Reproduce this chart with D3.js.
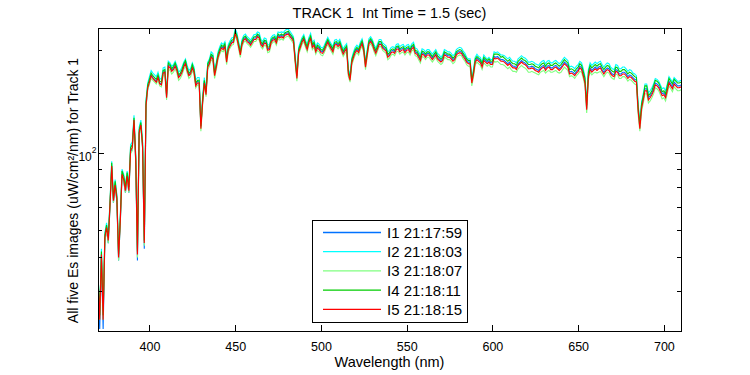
<!DOCTYPE html>
<html><head><meta charset="utf-8">
<script src="https://cdn.jsdelivr.net/npm/d3@7/dist/d3.min.js"></script>
<style>body{margin:0;background:#fff;} text{font-family:"Liberation Sans",Arial,Helvetica,sans-serif;}</style>
</head><body><svg id="c" width="750" height="375"></svg>
<script>
// main wavelength grid (nm)
const wavelengths = [370,371,372,373,374,375,376,377,378,379,380,381,382,383,384,385,386,387,388,389,390,391,392,393,394,395,396,397,398,399,400,
402,404,406,408,410,412,414,416,418,420,422,424,426,428,430,432,434,436,438,440,
442,444,446,448,450,452,454,456,458,460,462,464,466,468,470,472,474,476,478,480,
482,484,486,488,490,492,494,496,498,500,502,504,506,508,510,512,514,516,518,520,
522,524,526,528,530,532,534,536,538,540,542,544,546,548,550,552,554,556,558,560,
562,564,566,568,570,572,574,576,578,580,582,584,586,588,590,592,594,596,598,600,
602,604,606,608,610,612,614,616,618,620,622,624,626,628,630,632,634,636,638,640,642,644,646,648,650,652,
654,655,656,
658,660,662,664,666,668,670,672,674,676,678,680,682,684,686,688,690,692,694,696,698,700,702,704,706,708,710];
// in-between wavelengths (nm)
const wavelengthsB = [401,403,405,407,409,411,413,415,417,419,421,423,425,427,429,431,433,435,437,439,
441,443,445,447,449,451,453,455,457,459,461,463,465,467,469,471,473,475,477,479,
481,483,485,487,489,491,493,495,497,499,501,503,505,507,509,511,513,515,517,519,
521,523,525,527,529,531,533,535,537,539,541,543,545,547,549,551,553,555,557,559,
561,563,565,567,569,571,573,575,577,579,581,583,585,587,589,591,593,595,597,599,
601,603,605,607,609,611,613,615,617,619,621,623,625,627,629,631,633,635,637,639,
641,643,645,647,649,651,653,
657,659,661,663,665,667,669,671,673,675,677,679,681,683,685,687,689,691,693,695,697,699,701,703,705,707,709];

const I1 = [42,31,50,31,56,60,55,70,91,72,80,73,49,63,86,83,77,85,77,101,103,124,95,49,114,120,104,53,137,154,160,
166,162,160,172,146,179,177,176,170,180,176,172,174,162,119,162,180,192,170,192,
204,206,202,211,224,206,209,217,211,212,216,218,206,210,202,215,211,218,218,223,
220,213,166,205,216,202,217,208,204,198,201,212,203,208,206,202,200,172,185,198,
198,210,180,210,209,197,209,204,200,194,199,202,199,202,201,198,205,196,188,195,
195,192,192,190,186,195,192,190,189,197,197,190,184,161,186,187,180,186,186,183,
190,189,187,184,184,179,177,184,184,181,178,178,175,177,180,179,177,179,178,178,184,180,173,170,175,177,
161,135,169,
174,178,178,175,175,176,170,175,170,172,170,169,166,163,119,145,154,147,154,159,153,150,154,159,161,157,158];
const I1b = [169,164,167,159,173,181,174,181,167,173,184,169,179,158,161,141,149,184,190,180,
199,202,186,207,212,218,195,215,213,208,216,220,209,211,201,212,216,220,220,222,
224,217,187,198,212,208,212,205,199,202,197,207,207,199,209,209,196,203,164,192,
201,205,200,195,213,202,203,209,202,192,198,197,203,201,198,202,203,197,192,196,
192,195,189,195,188,188,194,192,187,195,198,193,186,184,171,189,185,188,184,183,
191,191,187,186,182,181,179,182,186,183,178,179,176,174,179,176,180,177,180,176,
181,182,172,172,173,179,170,
177,176,176,179,172,177,172,169,174,170,172,167,168,164,134,136,154,145,150,160,157,149,147,162,156,159,157];

const I2 = [45,34,53,34,59,63,58,73,95,75,84,76,52,66,90,87,81,89,81,106,108,129,99,53,119,125,109,57,143,160,167,
171,167,165,177,150,183,181,180,174,184,180,176,178,166,122,166,184,197,174,197,
209,211,207,216,230,211,214,222,216,217,221,224,211,215,207,220,216,224,224,229,
226,218,171,210,221,207,223,213,209,203,206,217,208,213,211,207,205,176,189,203,
203,215,184,215,214,202,214,209,205,199,204,207,204,207,206,203,210,201,193,200,
200,197,197,195,190,200,197,195,194,202,202,195,188,166,190,191,184,190,190,187,
196,195,193,190,190,185,183,190,190,187,184,184,181,183,186,185,183,185,184,184,190,186,179,176,181,183,
167,140,175,
180,184,184,181,181,182,176,181,176,178,176,175,171,168,123,149,159,152,159,164,158,155,159,164,166,162,163];
const I2b = [174,169,172,164,178,185,179,185,172,178,188,174,183,163,166,145,153,188,195,184,
204,207,190,212,217,224,200,220,218,213,221,225,214,216,206,217,221,225,225,227,
229,222,191,203,217,213,217,210,204,207,202,212,212,204,214,214,201,208,169,197,
206,210,205,200,218,207,208,214,207,197,203,202,208,206,203,207,208,202,197,201,
197,200,194,200,193,193,199,197,192,200,203,198,190,188,176,194,190,193,188,187,
197,197,193,192,188,187,185,188,192,189,184,185,182,180,185,182,186,183,186,182,
187,188,178,178,179,185,176,
183,182,182,185,178,183,178,175,180,176,178,173,174,170,139,141,159,150,155,165,162,154,152,167,161,164,162];

const I3 = [43,33,50,33,56,60,55,70,90,72,80,73,49,63,86,83,77,85,77,100,102,123,94,50,113,119,103,54,136,153,159,
163,159,157,168,143,174,172,171,165,175,171,167,169,158,116,158,175,187,165,187,
199,201,197,206,219,201,204,212,206,207,211,213,201,205,197,210,206,213,213,218,
215,208,162,200,211,197,212,203,199,193,196,207,198,203,201,197,195,167,180,193,
193,205,175,205,204,192,204,199,195,189,194,197,194,197,196,193,200,191,183,190,
190,187,187,185,181,190,187,185,184,192,192,185,179,157,181,182,175,181,181,178,
184,183,181,178,178,173,172,178,178,175,172,172,170,172,174,173,172,173,172,172,178,174,168,165,170,172,
157,131,164,
169,172,172,170,170,171,165,170,165,167,165,164,161,158,116,140,149,142,149,154,148,145,149,154,156,152,153];
const I3b = [165,161,163,156,169,176,170,176,163,169,179,165,174,155,158,138,146,179,185,175,
194,197,181,202,207,213,190,210,208,203,211,215,204,206,196,207,211,215,215,217,
219,212,182,193,207,203,207,200,194,197,192,202,202,194,204,204,191,198,161,187,
196,200,195,190,208,197,198,204,197,187,193,192,198,196,193,197,198,192,187,191,
187,190,184,190,183,183,189,187,182,190,193,188,181,179,167,184,180,183,179,178,
185,185,181,180,176,175,173,176,180,177,172,173,171,169,173,171,174,172,174,171,
175,176,167,167,168,173,165,
172,171,171,173,167,172,167,164,169,165,167,162,163,159,130,132,149,140,145,155,152,144,142,157,151,154,152];

const I4 = [45,34,52,34,58,62,57,72,94,74,83,75,51,65,89,86,80,88,80,104,106,127,98,52,117,123,107,56,141,158,164,
168,164,162,174,148,181,179,177,171,182,177,173,175,163,120,163,182,194,171,194,
206,208,204,213,226,208,211,219,213,214,218,220,208,212,204,217,213,220,220,225,
222,215,168,207,218,204,219,210,206,200,203,214,205,210,208,204,202,174,187,200,
200,212,182,212,211,199,211,206,202,196,201,204,201,204,203,200,207,198,190,197,
197,194,194,192,188,197,194,192,191,199,199,192,186,163,188,189,182,188,188,185,
194,193,191,187,187,182,180,187,187,184,181,181,178,180,183,182,180,182,181,181,187,183,176,173,178,180,
165,138,172,
177,181,181,178,178,179,173,178,173,175,173,172,169,166,122,147,157,149,157,162,156,152,157,162,164,160,161];
const I4b = [171,166,169,161,175,183,176,183,169,175,186,171,181,160,163,143,151,186,192,182,
201,204,188,209,214,220,197,217,215,210,218,222,211,213,203,214,218,222,222,224,
226,219,189,200,214,210,214,207,201,204,199,209,209,201,211,211,198,205,166,194,
203,207,202,197,215,204,205,211,204,194,200,199,205,203,200,204,205,199,194,198,
194,197,191,197,190,190,196,194,189,197,200,195,188,186,173,191,187,190,186,185,
194,194,190,189,185,184,182,185,189,186,181,182,179,177,182,179,183,180,183,179,
184,185,175,175,176,182,173,
180,179,179,182,175,180,175,172,177,173,175,170,171,167,137,139,157,147,152,163,160,151,149,165,159,162,160];

const I5 = [44,33,51,33,57,61,56,71,92,73,81,74,50,64,87,84,78,86,78,102,104,125,96,51,115,121,105,55,138,155,161,
165,161,159,171,145,177,175,174,168,178,174,170,172,160,118,160,178,190,168,190,
202,204,200,209,222,204,207,215,209,210,214,216,204,208,200,213,209,216,216,221,
218,211,165,203,214,200,215,206,202,196,199,210,201,206,204,200,198,170,183,196,
196,208,178,208,207,195,207,202,198,192,197,200,197,200,199,196,203,194,186,193,
193,190,190,188,184,193,190,188,187,195,195,188,182,160,184,185,178,184,184,181,
188,187,185,182,182,177,175,182,182,179,176,176,173,175,178,177,175,177,176,176,182,178,171,168,173,175,
160,134,167,
172,176,176,173,173,174,168,173,168,170,168,167,164,161,118,143,152,145,152,157,151,148,152,157,159,155,156];
const I5b = [168,163,166,158,172,179,173,179,166,172,182,168,177,157,160,140,148,182,188,178,
197,200,184,205,210,216,193,213,211,206,214,218,207,209,199,210,214,218,218,220,
222,215,185,196,210,206,210,203,197,200,195,205,205,197,207,207,194,201,163,190,
199,203,198,193,211,200,201,207,200,190,196,195,201,199,196,200,201,195,190,194,
190,193,187,193,186,186,192,190,185,193,196,191,184,182,170,187,183,186,182,181,
189,189,185,184,180,179,177,180,184,181,176,177,174,172,177,174,178,175,178,174,
179,180,170,170,171,177,168,
175,174,174,177,170,175,170,167,172,168,170,165,166,162,133,135,152,143,148,158,155,147,145,160,154,157,155];

const seriesNames = ["I1 21:17:59","I2 21:18:03","I3 21:18:07","I4 21:18:11","I5 21:18:15"];
const seriesColors = ["#0072ff","#00ffff","#80ff80","#00cc00","#ff0000"];
const seriesMain = [I1, I2, I3, I4, I5];
const seriesExtra = [I1b, I2b, I3b, I4b, I5b];
const xTicks = [400,450,500,550,600,650,700];
const yMajorTicks = [100];
const yMinorTicks = [40,50,60,70,80,90,200];
const titleText = "TRACK 1  Int Time = 1.5 (sec)";
const xLabel = "Wavelength (nm)";
const yLabel = "All five Es images (uW/cm\u00B2/nm) for Track 1";

const L = 98, R = 681, T = 28, B = 331;
const svg = d3.select("#c");
const x = d3.scaleLinear().domain([370, 710]).range([L, R]);
const y = d3.scaleLog().domain([30.6, 231]).range([B, T]);

svg.append("defs").append("clipPath").attr("id","clip")
  .append("rect").attr("x",L).attr("y",T).attr("width",R-L).attr("height",B-T);

const line = d3.line().x(d => x(d[0])).y(d => y(d[1]));
const gLines = svg.append("g").attr("clip-path","url(#clip)");
seriesMain.forEach((vals, i) => {
  const pts = wavelengths.map((w, j) => [w, vals[j]])
    .concat(wavelengthsB.map((w, j) => [w, seriesExtra[i][j]]))
    .sort((a, b) => a[0] - b[0]);
  gLines.append("path").datum(pts).attr("d", line)
    .attr("fill","none").attr("stroke", seriesColors[i]).attr("stroke-width", 1.1)
    .attr("stroke-linejoin","miter");
});

function styleAxis(g){
  g.select(".domain").remove();
  g.selectAll(".tick line").attr("stroke","#000").attr("shape-rendering","crispEdges");
  g.selectAll(".tick text").attr("fill","#000");
}
const gx = svg.append("g").attr("transform",`translate(0,${B})`)
  .call(d3.axisBottom(x).tickValues(xTicks).tickSize(-6).tickPadding(11).tickFormat(d3.format("d")));
styleAxis(gx); gx.selectAll("text").attr("font-size",12.5).attr("font-family","Liberation Sans, Arial, sans-serif");
const gxt = svg.append("g").attr("transform",`translate(0,${T})`)
  .call(d3.axisTop(x).tickValues(xTicks).tickSize(-6).tickFormat(""));
styleAxis(gxt);

const gy = svg.append("g").attr("transform",`translate(${L},0)`)
  .call(d3.axisLeft(y).tickValues(yMajorTicks).tickSize(-6).tickPadding(1.5).tickFormat(""));
styleAxis(gy);
gy.selectAll(".tick text").attr("dy","0.55em").each(function(d){
  const t = d3.select(this).attr("font-size",12).attr("font-family","Liberation Sans, Arial, sans-serif");
  t.append("tspan").text("10");
  t.append("tspan").attr("dy",-8).attr("font-size",8.5).text(String(Math.round(Math.log10(d))));
});
const gym = svg.append("g").attr("transform",`translate(${L},0)`)
  .call(d3.axisLeft(y).tickValues(yMinorTicks).tickSize(-4).tickFormat(""));
styleAxis(gym);
const gyr = svg.append("g").attr("transform",`translate(${R},0)`)
  .call(d3.axisRight(y).tickValues(yMajorTicks).tickSize(-6).tickFormat(""));
styleAxis(gyr);
const gyrm = svg.append("g").attr("transform",`translate(${R},0)`)
  .call(d3.axisRight(y).tickValues(yMinorTicks).tickSize(-4).tickFormat(""));
styleAxis(gyrm);

svg.append("rect").attr("x",L).attr("y",T).attr("width",R-L).attr("height",B-T)
  .attr("fill","none").attr("stroke","#000").attr("stroke-width",1).attr("shape-rendering","crispEdges");

svg.append("text").attr("x",(L+R)/2).attr("y",18).attr("text-anchor","middle")
  .attr("font-size",14.5).style("white-space","pre").text(titleText);
svg.append("text").attr("x",(L+R)/2).attr("y",367).attr("text-anchor","middle")
  .attr("font-size",14.5).text(xLabel);
svg.append("text").attr("transform",`translate(78,${(T+B)/2 + 11}) rotate(-90)`).attr("text-anchor","middle")
  .attr("font-size",14).text(yLabel);

const lg = svg.append("g");
const lx = 312, ly = 220, lw = 155, lh = 102;
lg.append("rect").attr("x",lx).attr("y",ly).attr("width",lw).attr("height",lh)
  .attr("fill","#fff").attr("stroke","#000").attr("shape-rendering","crispEdges");
seriesNames.forEach((name, i) => {
  const yy = ly + 12.5 + i * 19.2;
  lg.append("line").attr("x1",lx+11).attr("x2",lx+69).attr("y1",yy).attr("y2",yy)
    .attr("stroke",seriesColors[i]).attr("stroke-width",1.3);
  lg.append("text").attr("x",lx+75).attr("y",yy+5.5).attr("font-size",15).text(name);
});
</script></body></html>
